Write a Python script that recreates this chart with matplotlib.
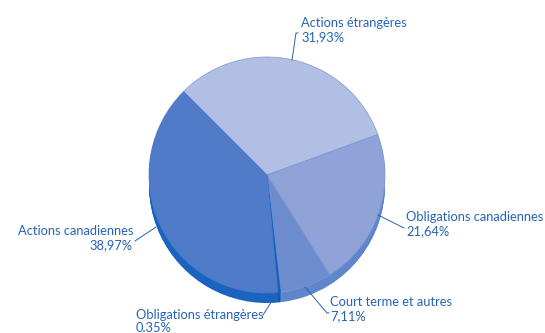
import matplotlib
matplotlib.use('Agg')
import matplotlib.pyplot as plt

plt.rcParams['font.family'] = ['Lato', 'DejaVu Sans']

labels = ['Actions étrangères', 'Obligations canadiennes', 'Court terme et autres',
          'Obligations étrangères', 'Actions canadiennes']
pct_text = ['31,93%', '21,64%', '7,11%', '0.35%', '38,97%']
values = [31.93, 21.64, 7.11, 0.35, 38.97]
top_colors = ['#b2bfe4', '#8fa3d8', '#6d8cce', '#0f62c0', '#4f7bc8']
side_colors = ['#8fa3d8', '#5f85cc', '#5f85cc', '#0b5cb8', '#1a64bf']
text_color = '#2563b9'

fig = plt.figure(figsize=(5.45, 3.33), dpi=100)
ax = fig.add_axes([0, 0, 1, 1])

cx, cy = 267, 333 - 175
radius = 118

# side of the pie: same slices stacked downwards
for d in range(10, 0, -1):
    ax.pie(values, colors=side_colors, startangle=135, counterclock=False,
           center=(cx, cy - d), radius=radius, frame=False)

wedges, _ = ax.pie(values, colors=top_colors, startangle=135, counterclock=False,
                   center=(cx, cy), radius=radius, frame=False,
                   wedgeprops={'edgecolor': '#7f97d4', 'linewidth': 0.5})
wedges[3].set_edgecolor(top_colors[3])
wedges[4].set_edgecolor(top_colors[4])

ax.set_xlim(0, 545)
ax.set_ylim(0, 333)
ax.set_aspect('auto')
ax.axis('off')

# leader lines
ax.plot([298, 296, 292], [333 - 33, 333 - 33, 333 - 60], color=text_color, lw=0.7)
ax.plot([378, 404], [333 - 215, 333 - 228], color=text_color, lw=0.7)
ax.plot([305, 327, 329], [333 - 287, 333 - 313, 333 - 313], color=text_color, lw=0.7)
ax.plot([277, 263], [333 - 293, 333 - 315], color=text_color, lw=0.7)
ax.plot([156, 135], [333 - 227, 333 - 241], color=text_color, lw=0.7)

# labels
fs = 9.3
ax.text(301, 333 - 23, labels[0], color=text_color, fontsize=fs, ha='left', va='center')
ax.text(301, 333 - 37, pct_text[0], color=text_color, fontsize=fs, ha='left', va='center')
ax.text(406, 333 - 217, labels[1], color=text_color, fontsize=fs, ha='left', va='center')
ax.text(406, 333 - 231, pct_text[1], color=text_color, fontsize=fs, ha='left', va='center')
ax.text(330, 333 - 302, labels[2], color=text_color, fontsize=fs, ha='left', va='center')
ax.text(330, 333 - 316, pct_text[2], color=text_color, fontsize=fs, ha='left', va='center')
ax.text(136, 333 - 315, labels[3], color=text_color, fontsize=fs, ha='left', va='center')
ax.text(136, 333 - 328, pct_text[3], color=text_color, fontsize=fs, ha='left', va='center')
ax.text(133, 333 - 231, labels[4], color=text_color, fontsize=fs, ha='right', va='center')
ax.text(133, 333 - 245, pct_text[4], color=text_color, fontsize=fs, ha='right', va='center')

fig.savefig('out.png', dpi=100)
